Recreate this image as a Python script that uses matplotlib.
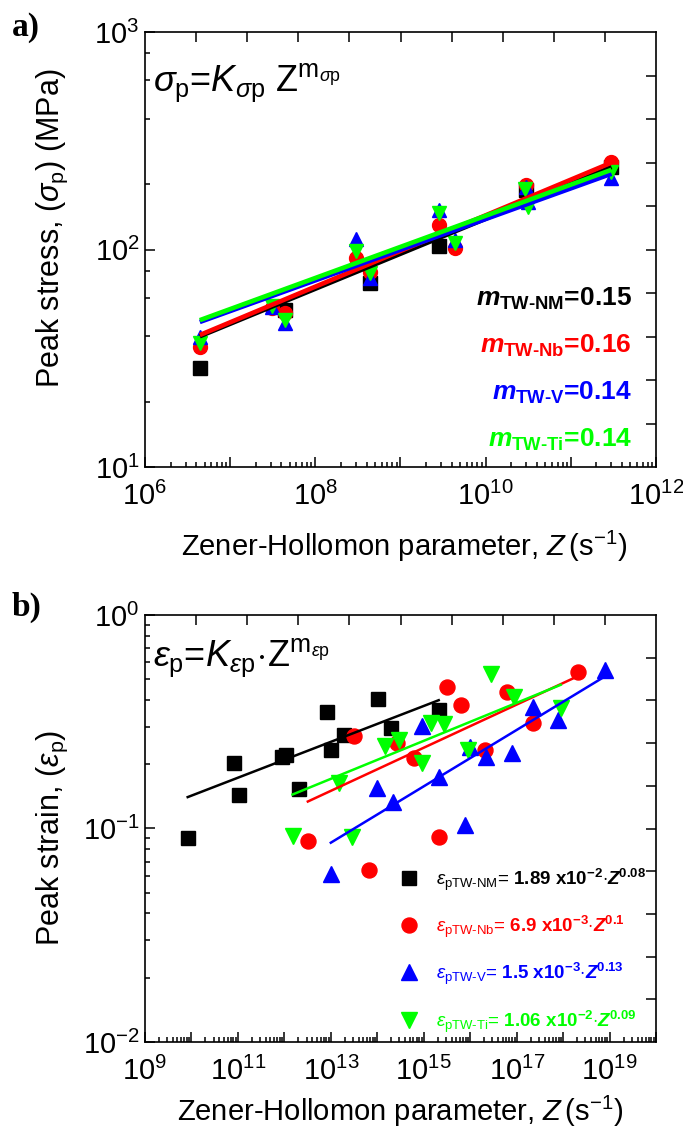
import numpy as np
import matplotlib
matplotlib.use('Agg')
import matplotlib.pyplot as plt
from matplotlib import font_manager
from matplotlib.ticker import LogLocator, FixedLocator, FuncFormatter, NullFormatter

names = {f.name for f in font_manager.fontManager.ttflist}
NARROW = 'Liberation Sans Narrow' if 'Liberation Sans Narrow' in names else 'Liberation Sans'

plt.rcParams['font.family'] = [NARROW, 'Liberation Sans', 'DejaVu Sans']
plt.rcParams['mathtext.fontset'] = 'custom'
plt.rcParams['mathtext.rm'] = 'Liberation Sans'
plt.rcParams['mathtext.it'] = 'Liberation Sans:italic'
plt.rcParams['mathtext.bf'] = 'Liberation Sans:bold'
plt.rcParams['mathtext.bfit'] = 'Liberation Sans:italic:bold'
plt.rcParams['mathtext.sf'] = 'Liberation Sans'

# ---------------- data: panel a (peak stress) ----------------
series_names = ['TW-NM', 'TW-Nb', 'TW-V', 'TW-Ti']
colors = ['#000000', '#FF0000', '#0000FF', '#00FF00']
markers = ['s', 'o', '^', 'v']

zA_nm = [4.4e6, 4.4e7, 4.4e8, 2.8e9, 3.0e10, 3.0e11]
sA_nm = [28.5, 52.7, 70.2, 103.8, 188, 239]
zA_nb = [4.4e6, 3.1e7, 4.4e7, 3.0e8, 4.4e8, 2.8e9, 4.4e9, 3.0e10, 3.0e11]
sA_nb = [35.6, 53.8, 51.0, 91.4, 78.8, 129.6, 101.6, 198, 252]
zA_v = [4.4e6, 3.1e7, 4.4e7, 3.0e8, 4.4e8, 2.8e9, 4.4e9, 3.0e10, 3.1e10, 3.0e11]
sA_v = [39.6, 54.3, 45.9, 111.7, 74.0, 152, 110.6, 194, 165, 213]
zA_ti = [4.4e6, 3.1e7, 4.4e7, 3.0e8, 4.4e8, 2.8e9, 4.4e9, 2.9e10, 3.1e10, 3.0e11]
sA_ti = [37.2, 55.0, 47.4, 98.4, 78.0, 147, 107, 190, 157, 227]
# fit lines: sigma = K * Z^m
KA = [3.40, 3.29, 5.37, 5.31]
mA = [0.161, 0.164, 0.141, 0.143]
mA_labels = ['0.15', '0.16', '0.14', '0.14']

# ---------------- data: panel b (peak strain) ----------------
zB_nm = [8.3e9, 8.4e10, 1.07e11, 8.9e11, 1.1e12, 2.03e12, 8.3e12, 1.01e13, 1.9e13, 1.02e14, 2.0e14, 2.1e15]
eB_nm = [0.090, 0.202, 0.143, 0.217, 0.221, 0.153, 0.352, 0.233, 0.274, 0.404, 0.295, 0.359]
zB_nb = [3.2e12, 3.2e13, 6.6e13, 2.7e14, 6.3e14, 2.1e15, 3.2e15, 6.2e15, 2.1e16, 6.3e16, 2.2e17, 2.1e18]
eB_nb = [0.0877, 0.272, 0.064, 0.251, 0.213, 0.0916, 0.461, 0.379, 0.233, 0.437, 0.311, 0.542]
zB_v = [1.0e13, 1.0e14, 2.2e14, 9.3e14, 2.1e15, 7.9e15, 9.8e15, 2.2e16, 7.8e16, 2.2e17, 7.8e17, 8.1e18]
eB_v = [0.061, 0.154, 0.133, 0.302, 0.175, 0.104, 0.242, 0.217, 0.225, 0.370, 0.322, 0.553]
zB_ti = [1.5e12, 1.5e13, 2.9e13, 1.5e14, 3.0e14, 9.3e14, 1.4e15, 2.8e15, 8.9e15, 2.8e16, 8.7e16, 8.9e17]
eB_ti = [0.092, 0.163, 0.091, 0.243, 0.260, 0.202, 0.311, 0.309, 0.232, 0.530, 0.414, 0.366]
KB = [2.06e-2, 7.30e-3, 1.65e-3, 1.19e-2]
mB = [0.084, 0.101, 0.132, 0.089]
KB_labels = ['1.89 x10^{-2}', '6.9 x10^{-3}', '1.5 x10^{-3}', '1.06 x10^{-2}']
mB_labels = ['0.08', '0.1', '0.13', '0.09']

zA = [zA_nm, zA_nb, zA_v, zA_ti]
sA = [sA_nm, sA_nb, sA_v, sA_ti]
zB = [zB_nm, zB_nb, zB_v, zB_ti]
eB = [eB_nm, eB_nb, eB_v, eB_ti]

W, H = 683, 1133
fig = plt.figure(figsize=(W / 100, H / 100), dpi=100)


def px_axes(l, t, r, b):
    return fig.add_axes([l / W, 1 - b / H, (r - l) / W, (b - t) / H])


axA = px_axes(145, 32, 656, 467)
axB = px_axes(145, 615, 656, 1042)

TICK_FS = 21
LABEL_FS = 21


def style_axis(ax, xlim, ylim, xlabel_exps, yminor_subs):
    ax.set_xscale('log')
    ax.set_yscale('log')
    ax.set_xlim(*xlim)
    ax.set_ylim(*ylim)
    lx0, lx1 = int(np.log10(xlim[0])), int(np.log10(xlim[1]))
    ax.xaxis.set_major_locator(FixedLocator([10.0 ** k for k in range(lx0, lx1 + 1)]))
    ax.xaxis.set_minor_locator(LogLocator(base=10, subs=np.arange(2, 10), numticks=50))
    ax.xaxis.set_major_formatter(FuncFormatter(
        lambda v, p: r'$\mathregular{10^{%d}}$' % round(np.log10(v)) if round(np.log10(v)) in xlabel_exps else ''))
    ax.xaxis.set_minor_formatter(NullFormatter())
    ly0, ly1 = int(round(np.log10(ylim[0]))), int(round(np.log10(ylim[1])))
    ax.yaxis.set_major_locator(FixedLocator([10.0 ** k for k in range(ly0, ly1 + 1)]))
    ax.yaxis.set_minor_locator(LogLocator(base=10, subs=yminor_subs, numticks=50))
    ax.yaxis.set_major_formatter(FuncFormatter(
        lambda v, p: r'$\mathregular{10^{%d}}$' % round(np.log10(v))))
    ax.yaxis.set_minor_formatter(NullFormatter())
    ax.tick_params(which='both', direction='in', top=False, right=False, width=1.1,
                   labelsize=TICK_FS)
    ax.tick_params(which='major', length=7)
    ax.tick_params(which='minor', length=3.5)
    ax.tick_params(axis='x', pad=11)
    ax.tick_params(axis='y', pad=4)
    for s in ax.spines.values():
        s.set_linewidth(1.2)
    # top / right frame ticks (10 equal divisions, as in the original)
    ov = fig.add_axes(ax.get_position(), frameon=False)
    ov.set_xlim(0, 10)
    ov.set_ylim(0, 10)
    ov.xaxis.tick_top()
    ov.yaxis.tick_right()
    ov.set_xticks(range(1, 10))
    ov.set_yticks(range(1, 10))
    ov.tick_params(direction='in', length=7, width=1.1, labeltop=False, labelright=False,
                   labelbottom=False, labelleft=False)
    ov.patch.set_visible(False)


# ---------------- panel a ----------------
style_axis(axA, (1e6, 1e12), (10, 1000), {6, 8, 10, 12}, (2, 4, 6, 8))
for i in range(4):
    axA.plot(zA[i], sA[i], linestyle='none', marker=markers[i], color=colors[i],
             markersize=10, zorder=2 + i * 0.1)
for i in range(4):
    zz = np.array([min(zA[i]), max(zA[i])])
    axA.plot(zz, KA[i] * zz ** mA[i], color=colors[i], lw=3.3, zorder=4 + i * 0.1,
             solid_capstyle='butt')

axA.text(0.016, 0.864,
         r'$\sigma_{\mathrm{p}}$=$K_{\sigma\mathrm{p}}$ Z$^{\mathrm{m}_{\sigma\mathrm{p}}}$',
         transform=axA.transAxes, fontsize=26, ha='left', va='baseline',
         family='Liberation Sans')

yA_rows = [0.370, 0.262, 0.154, 0.046]
for i in range(4):
    txt = (r'$\mathbfit{m}_{\mathbf{%s}}$' % series_names[i].replace('-', '\u2010')
           + '=' + mA_labels[i])
    axA.text(0.953, yA_rows[i], txt, transform=axA.transAxes, ha='right', va='baseline',
             fontsize=19, color=colors[i], fontweight='bold', family='Liberation Sans')

axA.text(-0.182, 0.549, r'Peak stress, ($\sigma_{\mathrm{p}}$) (MPa)', transform=axA.transAxes,
         rotation=90, ha='center', va='center', fontsize=22)
axA.text(0.508, -0.182, r'Zener-Hollomon parameter, $Z\,(\mathrm{s}^{-1})$', transform=axA.transAxes,
         ha='center', va='center', fontsize=LABEL_FS)

# ---------------- panel b ----------------
style_axis(axB, (1e9, 1e20), (1e-2, 1e0), {9, 11, 13, 15, 17, 19}, np.arange(2, 10))
msB = [9.7, 10.8, 11.5, 11.5]
for i in range(4):
    axB.plot(zB[i], eB[i], linestyle='none', marker=markers[i], color=colors[i],
             markersize=msB[i], zorder=2 + i * 0.1)
for i in range(4):
    zz = np.array([min(zB[i]), max(zB[i])])
    axB.plot(zz, KB[i] * zz ** mB[i], color=colors[i], lw=1.8, zorder=4 + i * 0.1)

axB.text(0.016, 0.88,
         r'$\varepsilon_{\mathrm{p}}$=$K_{\varepsilon\mathrm{p}}\!\cdot\!$Z$^{\mathrm{m}_{\varepsilon\mathrm{p}}}$',
         transform=axB.transAxes, fontsize=26, ha='left', va='baseline',
         family='Liberation Sans')

yB_mark = [0.384, 0.274, 0.164, 0.0515]
yB_text = [0.368, 0.258, 0.148, 0.036]
for i in range(4):
    axB.plot([0.516], [yB_mark[i]], transform=axB.transAxes, linestyle='none',
             marker=markers[i], color=colors[i], markersize=msB[i], clip_on=False, zorder=6)
    txt = (r'$\varepsilon_{\mathrm{p%s}}$= $\mathbf{%s}{\cdot}\mathbfit{Z}^{\mathbf{%s}}$'
           % (series_names[i].replace('-', '\u2010'), KB_labels[i].replace(' ', r'\ '), mB_labels[i]))
    axB.text(0.569, yB_text[i], txt, transform=axB.transAxes, ha='left', va='baseline',
             fontsize=13.5, color=colors[i])

axB.text(-0.182, 0.478, r'Peak strain, ($\varepsilon_{\mathrm{p}}$)', transform=axB.transAxes,
         rotation=90, ha='center', va='center', fontsize=22)
axB.text(0.50, -0.162, r'Zener-Hollomon parameter, $Z\,(\mathrm{s}^{-1})$', transform=axB.transAxes,
         ha='center', va='center', fontsize=LABEL_FS)

# panel letters
fig.text(12 / W, 1 - 12 / H, 'a)', family='Liberation Serif', fontweight='bold', fontsize=24,
         ha='left', va='top')
fig.text(12 / W, 1 - 592 / H, 'b)', family='Liberation Serif', fontweight='bold', fontsize=24,
         ha='left', va='top')

fig.savefig('out.png', dpi=100)
